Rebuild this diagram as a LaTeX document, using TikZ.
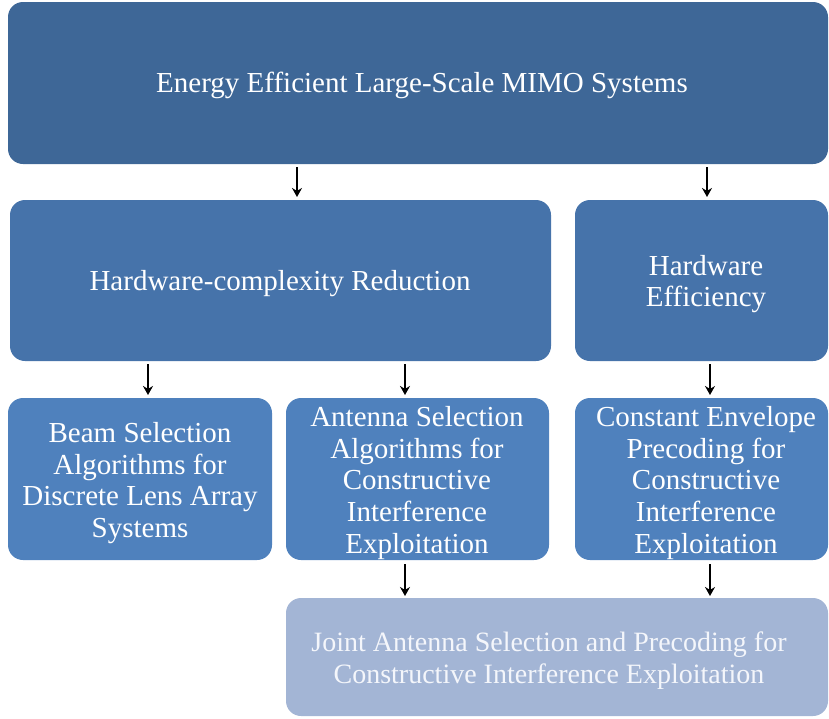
\documentclass[tikz,border=0pt]{standalone}
\usepackage{fontspec}
\setmainfont{Liberation Serif}
\usetikzlibrary{arrows.meta}
\definecolor{cTop}{HTML}{3E6797}
\definecolor{cMid}{HTML}{4673AA}
\definecolor{cLow}{HTML}{4F81BD}
\definecolor{cJoint}{HTML}{A3B5D5}
\definecolor{cJointText}{HTML}{F4F6FB}
\tikzset{
  box/.style={rounded corners=15pt, text=white, align=center, inner sep=0pt,
    font=\fontsize{29}{31.6}\selectfont},
  arr/.style={-{Stealth[length=9pt,width=10pt]}, line width=2.4pt, black}
}
\begin{document}
\begin{tikzpicture}[x=1pt,y=-1pt]
\useasboundingbox (0,0) rectangle (829,718);
\clip (0,0) rectangle (829,718);
% boxes
\fill[cTop, rounded corners=15pt] (8,2) rectangle (828,164);
\node[box] (top) at (422,85) {Energy Efficient Large-Scale MIMO Systems};
\fill[cMid, rounded corners=15pt] (10,200) rectangle (551,361);
\node[box] (hcr) at (280,284) {Hardware-complexity Reduction};
\fill[cMid, rounded corners=15pt] (575,200) rectangle (828,361);
\node[box] (he) at (706,284) {Hardware\\Efficiency};
\fill[cLow, rounded corners=15pt] (8,398) rectangle (272,560);
\node[box] (beam) at (140,483) {Beam Selection\\Algorithms for\\Discrete Lens Array\\Systems};
\fill[cLow, rounded corners=15pt] (286,398) rectangle (549,560);
\node[box] (ant) at (417,483) {Antenna Selection\\Algorithms for\\Constructive\\Interference\\Exploitation};
\fill[cLow, rounded corners=15pt] (575,398) rectangle (828,560);
\node[box] (ce) at (706,483) {Constant Envelope\\Precoding for\\Constructive\\Interference\\Exploitation};
\fill[cJoint, rounded corners=15pt] (286,598) rectangle (828,716);
\node[box, text=cJointText, font=\fontsize{28}{32}\selectfont] (joint) at (549,661) {Joint Antenna Selection and Precoding for\\Constructive Interference Exploitation};
% anchor points for connectors
\coordinate (a1s) at (297,167); \coordinate (a1e) at (297,197);
\coordinate (a2s) at (707,167); \coordinate (a2e) at (707,197);
\coordinate (a3s) at (148,364); \coordinate (a3e) at (148,395);
\coordinate (a4s) at (405,364); \coordinate (a4e) at (405,395);
\coordinate (a5s) at (710,364); \coordinate (a5e) at (710,395);
\coordinate (a6s) at (405,564); \coordinate (a6e) at (405,596);
\coordinate (a7s) at (710,564); \coordinate (a7e) at (710,596);
\draw[arr] (a1s) -- (a1e);
\draw[arr] (a2s) -- (a2e);
\draw[arr] (a3s) -- (a3e);
\draw[arr] (a4s) -- (a4e);
\draw[arr] (a5s) -- (a5e);
\draw[arr] (a6s) -- (a6e);
\draw[arr] (a7s) -- (a7e);
\end{tikzpicture}
\end{document}
